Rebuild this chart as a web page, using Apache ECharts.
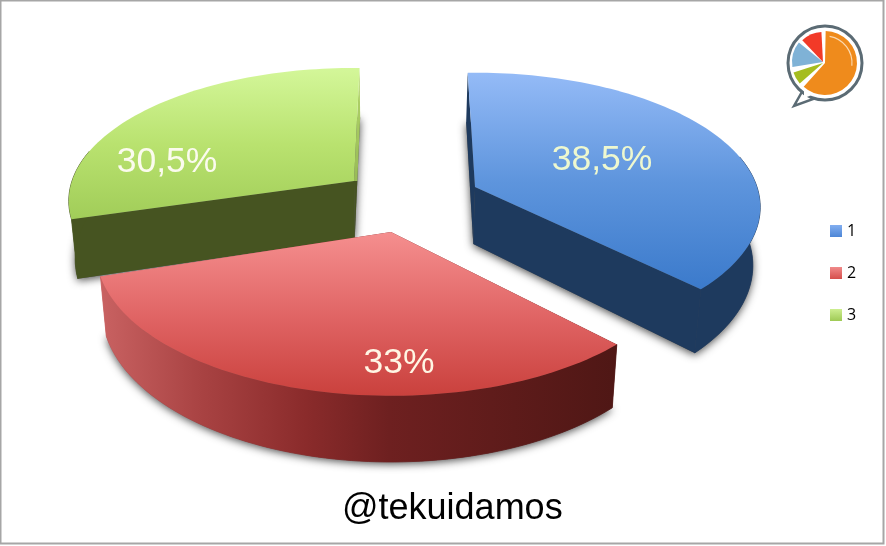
<!DOCTYPE html>
<html>
<head>
<meta charset="utf-8">
<style>html,body{margin:0;padding:0;background:#fff}#c{width:886px;height:546px}</style>
<script src="https://cdn.jsdelivr.net/npm/echarts@6/dist/echarts.min.js"></script>
</head>
<body>
<div id="c"></div>
<script>
const categories = ['1', '2', '3'];
const shares = [38.5, 33, 30.5];
const caption = '@tekuidamos';

const START_DEG = -1.2;
const DEPTH = 57;
const apexes = [[475, 187], [391, 232], [354, 181]];
const radii = [[282, 131.5, 0.15], [292, 141, 0.139], [282, 130, 0.15]];
const angleNudge = [-0.5, 1.2, 2.5];
const labelOffsets = [[127, -27], [8, 131], [-187, -19]];
const labelColors = ['#eef8cf', '#fff6e4', '#fbfbee'];
const faces = [
  ['#95bbf7', '#5e95dd', '#3b7acb', 72, 290],
  ['#f58f8f', '#e06464', '#c83e3a', 232, 402],
  ['#d4f79a', '#b9e26f', '#a0cc58', 67, 222]
];
const walls = ['#1e3a5e', null, '#465421'];
const redWallStops = [[0, '#c96262'], [0.2, '#a84242'], [0.4, '#8a2b2b'], [0.56, '#6e2020'], [1, '#4f1715']];

function grad(x, y, x2, y2, stops) {
  return new echarts.graphic.LinearGradient(x, y, x2, y2,
    stops.map(s => ({ offset: s[0], color: s[1] })), true);
}
function project(i, deg) {
  const apex = apexes[i], r = radii[i];
  const a = deg * Math.PI / 180, u = Math.sin(a), v = -Math.cos(a);
  const w = 1 - r[2] * v;
  return { x: apex[0] + r[0] * u / w, y: apex[1] + r[1] * v / w, w, v };
}
function lower(p) {
  return { x: 390 + (p.x - 390) * 0.98, y: p.y + DEPTH / p.w };
}
const xy = p => [p.x, p.y];
const total = shares.reduce((a, b) => a + b, 0);

function renderSlice(params, api) {
  const i = params.seriesIndex, value = api.value(0);
  let before = 0;
  for (let k = 0; k < i; k++) before += shares[k];
  const a0 = START_DEG + angleNudge[i] + before / total * 360, a1 = a0 + value / total * 360;
  const apex = apexes[i];
  const arc = [];
  for (let d = a0; d < a1; d += 1.5) arc.push(project(i, d));
  arc.push(project(i, a1));
  const c = { x: apex[0], y: apex[1], w: 1 };
  const lowArc = arc.map(lower), lowC = lower(c);
  const first = arc[0], last = arc[arc.length - 1];
  const wallFill = i === 1 ? grad(100, 0, 616, 0, redWallStops) : walls[i];
  let endFill = wallFill;
  if (i === 2) {
    const t = (apex[1] - last.y) / (lowC.y - last.y);
    endFill = grad(0, last.y, 0, lowC.y, [[0, '#b4d66c'], [t, '#98bb55'], [t, '#465421'], [1, '#465421']]);
  }
  const frontArc = arc.filter(p => p.v > -0.25);
  const poly = (pts, style) => ({ type: 'polygon', silent: true, shape: { points: pts.map(xy) }, style });
  const f = faces[i];
  const children = [
    poly([lowC].concat(lowArc), {
      fill: '#555', shadowBlur: 8, shadowColor: 'rgba(0,0,0,0.7)', shadowOffsetX: 0, shadowOffsetY: 2
    }),
    poly([c, first, lower(first), lowC], { fill: wallFill }),
    poly([c, last, lower(last), lowC], { fill: endFill }),
    poly(frontArc.concat(frontArc.map(lower).reverse()), { fill: wallFill, stroke: wallFill, lineWidth: 0.8 }),
    poly([c].concat(arc), { fill: grad(0, f[3], 0, f[4], [[0, f[0]], [0.5, f[1]], [1, f[2]]]) }),
    {
      type: 'text', silent: true,
      x: apex[0] + labelOffsets[i][0], y: apex[1] + labelOffsets[i][1],
      style: {
        text: String(value).replace('.', ',') + '%',
        font: '35.5px "Liberation Sans", Arial, sans-serif',
        fill: labelColors[i], align: 'center', verticalAlign: 'middle'
      }
    }
  ];
  return { type: 'group', children };
}

const chart = echarts.init(document.getElementById('c'), null, { renderer: 'canvas' });
const legendFill = [
  ['#82aef0', '#4d86d6'], ['#f08a8a', '#d64f4c'], ['#cdee90', '#9fca55']
];
const zOrder = [2, 3, 1];
chart.setOption({
  animation: false,
  backgroundColor: '#fff',
  title: {
    text: caption, left: 342, top: 491, padding: 0,
    textStyle: { fontFamily: '"Liberation Sans", Arial, sans-serif', fontSize: 36, fontWeight: 'normal', color: '#000' }
  },
  legend: {
    orient: 'vertical', left: 830, top: 223, itemWidth: 12, itemHeight: 12, itemGap: 26, icon: 'rect',
    selectedMode: false, padding: 0,
    data: categories.map((n, i) => ({
      name: n,
      itemStyle: { color: new echarts.graphic.LinearGradient(0, 0, 0, 1, [{ offset: 0, color: legendFill[i][0] }, { offset: 1, color: legendFill[i][1] }]) }
    })),
    textStyle: { fontFamily: '"Open Sans", "Noto Sans", sans-serif', fontSize: 16, color: '#000', lineHeight: 16 }
  },
  series: categories.map((n, i) => ({
    type: 'custom', name: n, coordinateSystem: 'none', z: zOrder[i], silent: true, clip: false,
    renderItem: renderSlice,
    itemStyle: { color: legendFill[i][1] },
    data: [[shares[i]]]
  })),
  graphic: [
    { type: 'rect', silent: true, z: 0, shape: { x: 0.5, y: 0.5, width: 883, height: 543 }, style: { fill: 'none', stroke: '#a6a6a6', lineWidth: 2 } },
    { type: 'polygon', silent: true, z: 5, shape: { points: [[803, 90], [794, 106], [816, 98]] }, style: { fill: '#fff', stroke: '#5b6b74', lineWidth: 2.5 } },
    { type: 'circle', silent: true, z: 5, shape: { cx: 825, cy: 63, r: 37 }, style: { fill: '#fff', stroke: '#5b6b74', lineWidth: 3 } },
    { type: 'polygon', silent: true, z: 5, shape: { points: [[804, 91], [809, 88], [812, 95], [804, 98]] }, style: { fill: '#fff' } },
    { type: 'sector', silent: true, z: 6, shape: { cx: 825, cy: 63, r: 32, r0: 0, startAngle: -1.55, endAngle: 2.3 }, style: { fill: '#ef8b1c' } },
    { type: 'sector', silent: true, z: 6, shape: { cx: 823, cy: 63, r: 31, r0: 0, startAngle: 2.42, endAngle: 2.83 }, style: { fill: '#a5bd20' } },
    { type: 'sector', silent: true, z: 6, shape: { cx: 823, cy: 62, r: 31, r0: 0, startAngle: 2.98, endAngle: 3.82 }, style: { fill: '#7fb2d6' } },
    { type: 'sector', silent: true, z: 6, shape: { cx: 823, cy: 62, r: 30, r0: 0, startAngle: 3.95, endAngle: 4.66 }, style: { fill: '#f23a28' } },
    { type: 'arc', silent: true, z: 7, shape: { cx: 825, cy: 63, r: 27, startAngle: -1.4, endAngle: 0.1 }, style: { fill: 'none', stroke: '#fbd9b0', lineWidth: 1.2 } }
  ]
});
</script>
</body>
</html>
